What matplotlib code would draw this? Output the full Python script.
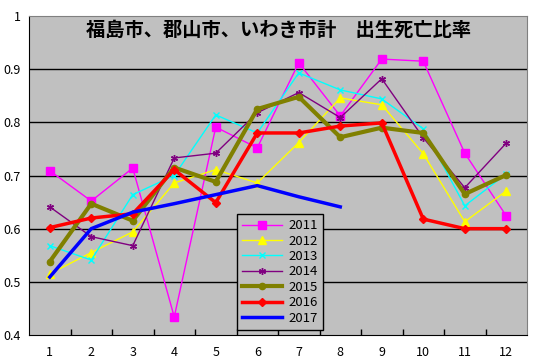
import matplotlib
matplotlib.use("Agg")
import matplotlib.pyplot as plt
import numpy as np

plt.rcParams['font.family'] = ['Noto Sans CJK JP', 'DejaVu Sans']

months = list(range(1, 13))
title = "福島市、郡山市、いわき市計　出生死亡比率"

y2011 = [0.709, 0.652, 0.714, 0.434, 0.791, 0.752, 0.912, 0.812, 0.919, 0.915, 0.742, 0.624]
y2012 = [0.515, 0.555, 0.594, 0.686, 0.711, 0.686, 0.762, 0.846, 0.833, 0.741, 0.613, 0.671]
y2013 = [0.568, 0.541, 0.664, 0.700, 0.814, 0.780, 0.893, 0.861, 0.844, 0.788, 0.643, 0.703]
y2014 = [0.641, 0.585, 0.568, 0.733, 0.742, 0.818, 0.856, 0.809, 0.882, 0.771, 0.677, 0.761]
y2015 = [0.538, 0.647, 0.615, 0.715, 0.688, 0.825, 0.848, 0.772, 0.790, 0.780, 0.665, 0.701]
y2016 = [0.602, 0.620, 0.628, 0.711, 0.649, 0.780, 0.780, 0.793, 0.799, 0.618, 0.600, 0.600]
y2017 = [0.509, 0.600, 0.631, 0.647, 0.664, 0.681, 0.660, 0.641]

fig = plt.figure(figsize=(5.38, 3.64), dpi=100)
ax = fig.add_axes([0.0539, 0.0797, 0.9257, 0.8763])
ax.set_facecolor('#C0C0C0')

ax.plot(months, y2011, color='#FF00FF', lw=1, marker='s', ms=5.5, label='2011')
ax.plot(months, y2012, color='#FFFF00', lw=1, marker='^', ms=6, label='2012')
ax.plot(months, y2013, color='#00FFFF', lw=1, marker='x', ms=5, mew=1, label='2013')
ax.plot(months, y2014, color='#800080', lw=1, marker=(6, 2, 0), ms=5, mew=1, label='2014')
ax.plot(months, y2015, color='#808000', lw=3, marker='o', ms=4.5, label='2015')
ax.plot(months, y2016, color='#FF0000', lw=2.5, marker='D', ms=4, label='2016')
ax.plot(months[:len(y2017)], y2017, color='#0000FF', lw=2.5, label='2017')

ax.set_xlim(0.5, 12.5)
ax.set_ylim(0.4, 1.0)
ax.set_yticks([0.4, 0.5, 0.6, 0.7, 0.8, 0.9, 1.0])
ax.set_yticklabels(['0.4', '0.5', '0.6', '0.7', '0.8', '0.9', '1'])
ax.set_xticks(months)
ax.set_xticks(np.arange(1.5, 12, 1), minor=True)
ax.tick_params(axis='x', which='major', length=0, pad=8, labelsize=9)
ax.tick_params(axis='x', which='minor', direction='in', length=4, width=1)
ax.tick_params(axis='y', length=0, pad=6, labelsize=9)

for v in [0.5, 0.6, 0.7, 0.8, 0.9]:
    ax.axhline(v, color='black', lw=1, zorder=1)

for s in ['top', 'right']:
    ax.spines[s].set_color('#808080')
for s in ['left', 'bottom']:
    ax.spines[s].set_color('black')

ax.text(0.5, 0.955, title, transform=ax.transAxes, ha='center', va='center',
        fontsize=13.9, fontweight='bold')

leg = ax.legend(loc='lower left', bbox_to_anchor=(0.418, 0.016), borderaxespad=0,
                fontsize=9.5, frameon=True, fancybox=False, facecolor='#C0C0C0',
                edgecolor='black', framealpha=1, handlelength=3,
                labelspacing=0.18, borderpad=0.4, handletextpad=0.5)
leg.get_frame().set_linewidth(1)

fig.savefig('out.png', dpi=100)
